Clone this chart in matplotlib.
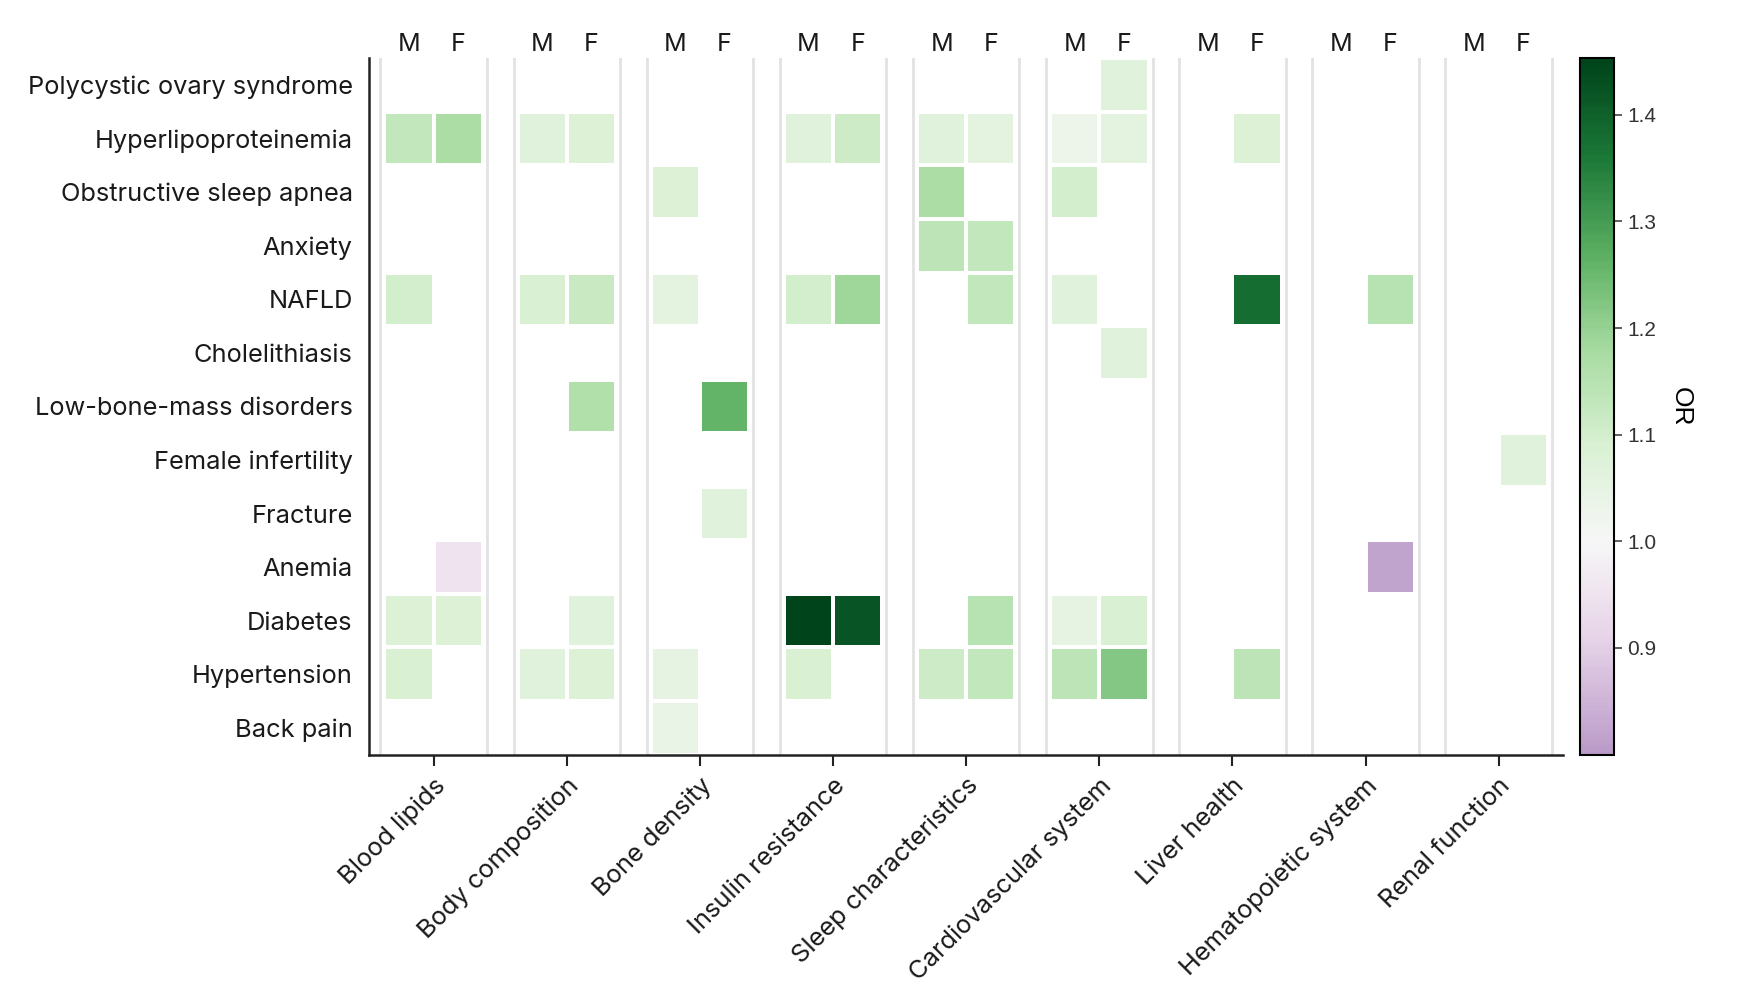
import numpy as np
import matplotlib
matplotlib.use("Agg")
import matplotlib.pyplot as plt
from matplotlib.colors import ListedColormap, Normalize

plt.rcParams['font.family'] = ['Inter', 'DejaVu Sans']

nan = np.nan

groups = ["Blood lipids", "Body composition", "Bone density", "Insulin resistance",
          "Sleep characteristics", "Cardiovascular system", "Liver health",
          "Hematopoietic system", "Renal function"]
sexes = ["M", "F"]
diseases = ["Polycystic ovary syndrome", "Hyperlipoproteinemia", "Obstructive sleep apnea",
            "Anxiety", "NAFLD", "Cholelithiasis", "Low-bone-mass disorders",
            "Female infertility", "Fracture", "Anemia", "Diabetes", "Hypertension",
            "Back pain"]

# OR per disease, columns = (group, sex) in order M, F for each group
pcos =          [nan, nan, nan, nan, nan, nan, nan, nan, nan, nan, nan, 1.07, nan, nan, nan, nan, nan, nan]
hyperlipo =     [1.13, 1.17, 1.07, 1.08, nan, nan, 1.07, 1.11, 1.07, 1.06, 1.03, 1.06, nan, 1.08, nan, nan, nan, nan]
sleep_apnea =   [nan, nan, nan, nan, 1.08, nan, nan, nan, 1.17, nan, 1.10, nan, nan, nan, nan, nan, nan, nan]
anxiety =       [nan, nan, nan, nan, nan, nan, nan, nan, 1.14, 1.13, nan, nan, nan, nan, nan, nan, nan, nan]
nafld =         [1.10, nan, 1.09, 1.12, 1.06, nan, 1.10, 1.19, nan, 1.13, 1.07, nan, nan, 1.38, nan, 1.15, nan, nan]
cholelith =     [nan, nan, nan, nan, nan, nan, nan, nan, nan, nan, nan, 1.07, nan, nan, nan, nan, nan, nan]
low_bone_mass = [nan, nan, nan, 1.16, nan, 1.26, nan, nan, nan, nan, nan, nan, nan, nan, nan, nan, nan, nan]
infertility =   [nan, nan, nan, nan, nan, nan, nan, nan, nan, nan, nan, nan, nan, nan, nan, nan, nan, 1.07]
fracture =      [nan, nan, nan, nan, nan, 1.07, nan, nan, nan, nan, nan, nan, nan, nan, nan, nan, nan, nan]
anemia =        [nan, 0.95, nan, nan, nan, nan, nan, nan, nan, nan, nan, nan, nan, nan, nan, 0.82, nan, nan]
diabetes =      [1.08, 1.08, nan, 1.07, nan, nan, 1.45, 1.42, nan, 1.15, 1.05, 1.09, nan, nan, nan, nan, nan, nan]
hypertension =  [1.09, nan, 1.07, 1.08, 1.05, nan, 1.09, nan, 1.11, 1.13, 1.14, 1.22, nan, 1.14, nan, nan, nan, nan]
back_pain =     [nan, nan, nan, nan, 1.04, nan, nan, nan, nan, nan, nan, nan, nan, nan, nan, nan, nan, nan]

rows = [pcos, hyperlipo, sleep_apnea, anxiety, nafld, cholelith, low_bone_mass,
        infertility, fracture, anemia, diabetes, hypertension, back_pain]
data = np.array(rows, dtype=float)

cbar_ticks = [0.9, 1.0, 1.1, 1.2, 1.3, 1.4]
vmin, vmax = 0.8, 1.453

# PRGn cut so that OR = 1 stays white
frac_one = (1.0 - vmin) / (vmax - vmin)
start = (0.5 - frac_one) / (1 - frac_one)
cmap = ListedColormap(plt.cm.PRGn(np.linspace(start, 1, 256)))
cmap.set_bad((1, 1, 1, 0))
norm = Normalize(vmin=vmin, vmax=vmax)

fig = plt.figure(figsize=(17.42, 10.06), dpi=100)
ax = fig.add_axes([0.212, 0.25, 0.685, 0.692])

pitch = 5
half = 1.85
centers = np.arange(len(groups)) * pitch
ys = np.arange(len(diseases) + 1) - 0.5

for i, c in enumerate(centers):
    ax.axvline(c - 2, color='#e2e2e2', lw=2, zorder=0)
    ax.axvline(c + 2, color='#e2e2e2', lw=2, zorder=0)
    block = np.ma.masked_invalid(data[:, 2 * i:2 * i + 2])
    ax.pcolormesh([c - half, c, c + half], ys, block, cmap=cmap, norm=norm,
                  edgecolors='white', linewidth=1.5, zorder=2)
    for j, s in enumerate(sexes):
        ax.text(c + (j - 0.5) * half, 1.02, s, transform=ax.get_xaxis_transform(),
                ha='center', va='center', fontsize=18, color='#1a1a1a')

ax.set_xlim(-2.42, centers[-1] + 2.4)
ax.set_ylim(len(diseases) - 0.5, -0.5)

ax.set_yticks(np.arange(len(diseases)))
ax.set_yticklabels(diseases, fontsize=18.3, color='#1a1a1a')
ax.tick_params(axis='y', length=0, pad=12)

ax.set_xticks(centers)
ax.set_xticklabels(groups, rotation=45, ha='right', va='top', rotation_mode='anchor',
                   fontsize=18.3, color='#1a1a1a')
ax.tick_params(axis='x', length=8, width=1.5, color='#222222', pad=6)

for side in ['top', 'right']:
    ax.spines[side].set_visible(False)
for side in ['left', 'bottom']:
    ax.spines[side].set_linewidth(1.8)
    ax.spines[side].set_color('#222222')

cax = fig.add_axes([0.907, 0.25, 0.0195, 0.692])
sm = plt.cm.ScalarMappable(norm=norm, cmap=cmap)
cbar = fig.colorbar(sm, cax=cax, ticks=cbar_ticks)
cbar.outline.set_linewidth(1.5)
cbar.ax.tick_params(labelsize=15, length=6, width=1.2, color='#444444')
cbar.ax.set_yticklabels([f"{t:.1f}" for t in cbar_ticks], family='Liberation Sans', color='#333333')
cbar.set_label("OR", rotation=270, fontsize=19, labelpad=26, family='Liberation Sans')

fig.savefig("out.png", dpi=100)
